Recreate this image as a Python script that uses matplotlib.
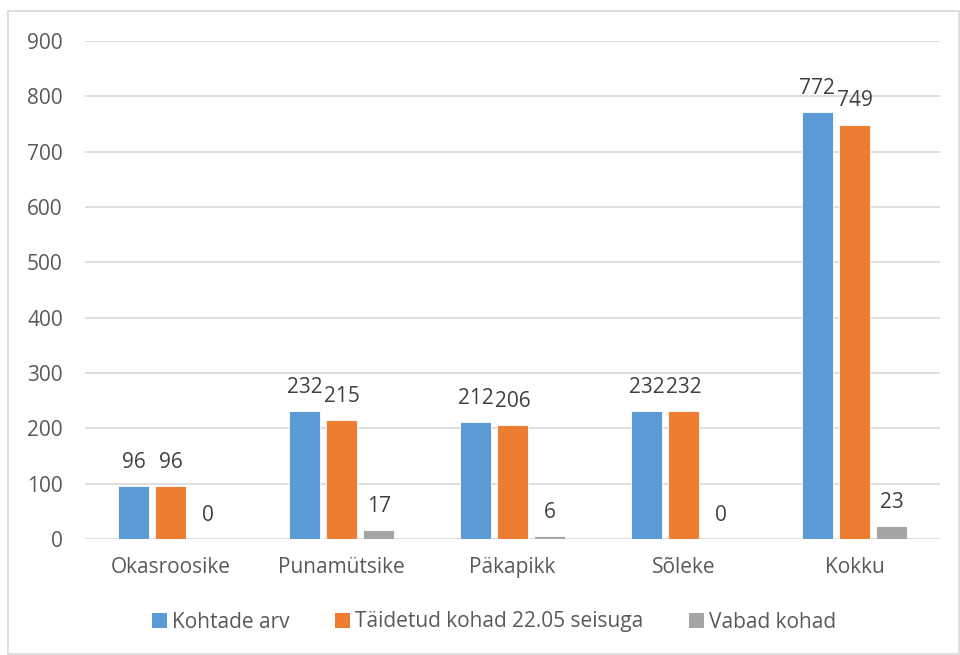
import matplotlib
matplotlib.use("Agg")
import matplotlib.pyplot as plt
from matplotlib.patches import Rectangle, Patch
import numpy as np

plt.rcParams['font.family'] = ['Open Sans', 'DejaVu Sans']

categories = ["Okasroosike", "Punamütsike", "Päkapikk", "Sõleke", "Kokku"]
series_names = ["Kohtade arv", "Täidetud kohad 22.05 seisuga", "Vabad kohad"]
kohtade_arv = [96, 232, 212, 232, 772]
taidetud = [96, 215, 206, 232, 749]
vabad = [0, 17, 6, 0, 23]
colors = ["#5B9BD5", "#ED7D31", "#A5A5A5"]
yticks = [0, 100, 200, 300, 400, 500, 600, 700, 800, 900]

W, H = 960, 655
fig = plt.figure(figsize=(W/100, H/100), dpi=100)
ax = fig.add_axes([85/W, 1-539/H, (940-85)/W, (539-41)/H])

x = np.arange(len(categories))
offs = [-0.217, 0, 0.217]
bw = 0.178
txtc = "#595959"
FS = 15
for vals, off, c in zip([kohtade_arv, taidetud, vabad], offs, colors):
    ax.bar(x + off, vals, bw, color=c, edgecolor="white", linewidth=0.6, zorder=3)
    for xi, v in zip(x + off, vals):
        ax.annotate(str(v), (xi, v), xytext=(0, 13), textcoords="offset points",
                    ha="center", va="baseline", fontsize=FS, color="#404040", zorder=4)

ax.set_xlim(-0.5, 4.5)
ax.set_ylim(0, 900)
ax.set_yticks(yticks)
ax.set_xticks(x)
ax.set_xticklabels(categories)
ax.grid(axis="y", color="#D9D9D9", linewidth=1.2, zorder=0)
for s in ax.spines.values():
    s.set_visible(False)
ax.tick_params(axis="both", length=0, labelsize=FS, labelcolor=txtc)
ax.tick_params(axis="y", pad=16)
ax.tick_params(axis="x", pad=13)

handles = [Patch(facecolor=c) for c in colors]
fig.legend(handles, series_names, loc="center", bbox_to_anchor=(494/W, 1-622/H), ncol=3,
           frameon=False, fontsize=FS, handlelength=0.7, handleheight=0.7,
           handletextpad=0.25, columnspacing=2.2, labelcolor=txtc)

fig.patches.append(Rectangle((8/W, 1-654/H), (W-9)/W, (654-11)/H, transform=fig.transFigure,
                             fill=False, edgecolor="#D9D9D9", linewidth=1.2))

fig.savefig("out.png", dpi=100, facecolor="white")
